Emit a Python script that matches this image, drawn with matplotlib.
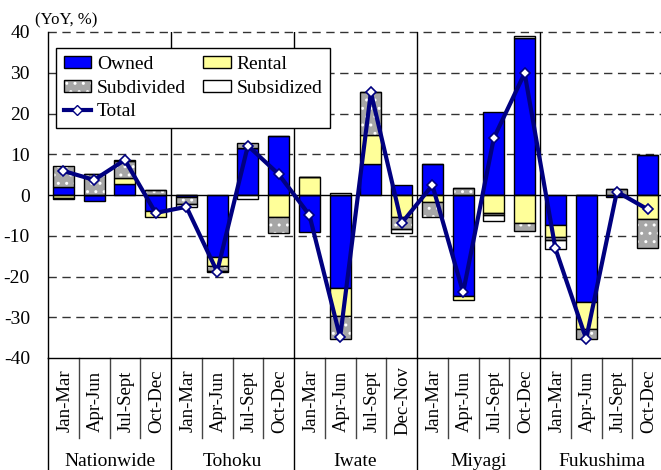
import matplotlib
matplotlib.use("Agg")
import matplotlib.pyplot as plt
import numpy as np
from matplotlib.patches import Patch
from matplotlib.lines import Line2D
from matplotlib.legend_handler import HandlerTuple
from matplotlib.transforms import blended_transform_factory

plt.rcParams['font.family'] = ['Liberation Serif', 'DejaVu Serif']
plt.rcParams['hatch.color'] = 'white'
plt.rcParams['hatch.linewidth'] = 1.0

regions = ["Nationwide", "Tohoku", "Iwate", "Miyagi", "Fukushima"]
quarters = ["Jan-Mar", "Apr-Jun", "Jul-Sept", "Oct-Dec",
            "Jan-Mar", "Apr-Jun", "Jul-Sept", "Oct-Dec",
            "Jan-Mar", "Apr-Jun", "Jul-Sept", "Dec-Nov",
            "Jan-Mar", "Apr-Jun", "Jul-Sept", "Oct-Dec",
            "Jan-Mar", "Apr-Jun", "Jul-Sept", "Oct-Dec"]

owned = [2.0, -1.5, 2.8, -3.9, -0.5, -15.2, 11.6, 14.4, -9.2, -22.7,
         7.5, 2.4, 7.7, -24.7, 20.3, 38.5, -7.3, -26.2, -0.6, 9.7]
rental = [-0.7, 0, 1.3, -1.6, 0, -2.2, 0, -5.5, 4.5, -7.1,
          7.3, -5.4, -1.6, -1.0, -4.3, -6.8, -2.9, -6.7, 0, -5.8]
subdivided = [5.1, 5.2, 4.2, 1.2, -1.6, -1.2, 1.2, -3.8, 0, -5.5,
              10.4, -2.9, -3.8, 1.8, -0.5, -2.0, -0.8, -2.4, 1.4, -7.2]
subsidized = [-0.4, 0, 0.3, 0, -0.8, -0.3, -0.9, 0, 0, 0.5,
              0, -1.0, 0, 0, -1.5, 0.4, -2.3, 0, 0, 0]
total = [5.9, 3.7, 8.6, -4.4, -2.9, -18.8, 12.1, 5.1, -4.9, -34.9,
         25.2, -6.9, 2.4, -23.9, 14.0, 29.9, -13.1, -35.3, 0.8, -3.5]

W, H = 661, 470
fig = plt.figure(figsize=(W / 100, H / 100), dpi=100)
ax_l, ax_r, ax_t, ax_b = 48, 661, 32, 358
ax = fig.add_axes([ax_l / W, 1 - ax_b / H, (ax_r - ax_l) / W, (ax_b - ax_t) / H])

n = len(quarters)
x = np.arange(n)
slot_px = 123 / 4
xmax = (ax_r - ax_l) / slot_px - 0.5
ax.set_xlim(-0.5, xmax)
ax.set_ylim(-40, 40)

GRAY = '#a6a6a6'
bw = 0.68
pos_b = np.zeros(n)
neg_b = np.zeros(n)
series = [
    (owned, dict(facecolor='#0000ff')),
    (rental, dict(facecolor='#ffff99')),
    (subdivided, 'hatch'),
    (subsidized, dict(facecolor='white')),
]
for vals, style in series:
    v = np.array(vals, dtype=float)
    bottoms = np.where(v >= 0, pos_b, neg_b)
    if style == 'hatch':
        ax.bar(x, v, bw, bottom=bottoms, facecolor=GRAY, edgecolor='white',
               hatch='..', linewidth=0, zorder=2)
        ax.bar(x, v, bw, bottom=bottoms, facecolor='none', edgecolor='black',
               linewidth=1, zorder=2.1)
    else:
        ax.bar(x, v, bw, bottom=bottoms, edgecolor='black', linewidth=1,
               zorder=2, **style)
    pos_b = pos_b + np.where(v > 0, v, 0)
    neg_b = neg_b + np.where(v < 0, v, 0)

ax.plot(x, total, color='#000080', lw=3, marker='D', ms=5.5,
        markerfacecolor='white', markeredgecolor='#000080', markeredgewidth=1.2,
        zorder=4)

# grid lines
for yv in [-30, -20, -10, 10, 20, 30, 40]:
    ax.axhline(yv, color='#333333', lw=1, ls=(0, (6, 4)), zorder=1, clip_on=False)
ax.axhline(0, color='black', lw=1, zorder=3)
for g in range(1, 5):
    ax.axvline(4 * g - 0.5, color='black', lw=1, zorder=1)

for s in ['top', 'right']:
    ax.spines[s].set_visible(False)
ax.spines['left'].set_linewidth(1)
ax.spines['bottom'].set_linewidth(1)

ax.set_xticks([])
ax.set_yticks([-40, -30, -20, -10, 0, 10, 20, 30, 40])
ax.set_yticklabels(['-40', '-30', '-20', '-10', '0', '10', '20', '30', '40'])
ax.tick_params(axis='y', length=0, pad=13, labelsize=14)

# category labels below axis
trans = blended_transform_factory(ax.transData, fig.transFigure)
y_axis_bot = 1 - ax_b / H
y_month_sep = 1 - 438 / H
for i, q in enumerate(quarters):
    fig.text(0, 0, q, transform=trans, rotation=90, ha='center', va='center',
             fontsize=13.5, position=(i + 0.05, 1 - 401 / H))
for k in range(1, n):
    xs = k - 0.5
    if k % 4 == 0:
        ax.add_line(Line2D([xs, xs], [y_axis_bot, 0], transform=trans,
                           color='black', lw=1, clip_on=False))
    else:
        ax.add_line(Line2D([xs, xs], [y_axis_bot, y_month_sep], transform=trans,
                           color='#444444', lw=1, clip_on=False))
ax.add_line(Line2D([-0.5, -0.5], [y_axis_bot, 0], transform=trans,
                   color='black', lw=1, clip_on=False))
for g, r in enumerate(regions):
    fig.text(0, 0, r, transform=trans, ha='center', va='center', fontsize=14,
             position=(4 * g + 1.5, 1 - 461 / H))

fig.text(35 / W, 1 - 20 / H, '(YoY, %)', ha='left', va='center', fontsize=12)

sub_handle = (Patch(facecolor=GRAY, edgecolor='white', hatch='..', linewidth=0),
              Patch(facecolor='none', edgecolor='black', linewidth=1))
handles = [
    Patch(facecolor='#0000ff', edgecolor='black', label='Owned'),
    sub_handle,
    Line2D([], [], color='#000080', lw=3, marker='D', ms=5.5,
           markerfacecolor='white', markeredgecolor='#000080', label='Total'),
    Patch(facecolor='#ffff99', edgecolor='black', label='Rental'),
    Patch(facecolor='white', edgecolor='black', label='Subsidized'),
]
labels = ['Owned', 'Subdivided', 'Total', 'Rental', 'Subsidized']
leg = ax.legend(handles=handles, labels=labels, ncol=2, loc='upper left',
                bbox_to_anchor=(8 / 613, 1 - 16 / 326), borderaxespad=0,
                fontsize=14, frameon=True, fancybox=False, edgecolor='black',
                handlelength=1.4, handleheight=0.6, handletextpad=0.3,
                labelspacing=0.35, columnspacing=0.9, borderpad=0.4,
                framealpha=1,
                handler_map={tuple: HandlerTuple(ndivide=1, pad=0)})
leg.get_frame().set_linewidth(1)
leg.set_zorder(5)

fig.savefig('out.png', dpi=100)
